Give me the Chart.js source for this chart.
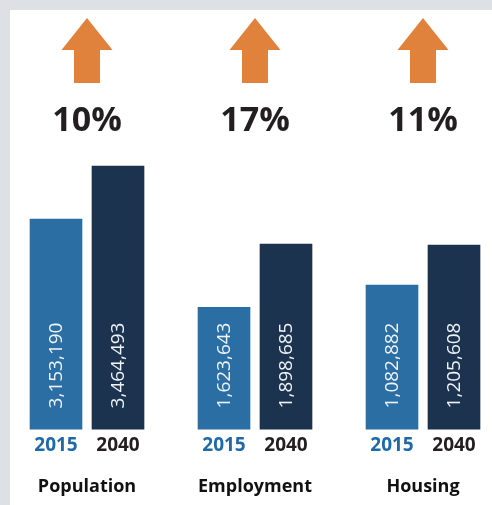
<!DOCTYPE html>
<html>
<head>
<meta charset="utf-8">
<script src="https://cdn.jsdelivr.net/npm/chart.js@4/dist/chart.umd.min.js"></script>
<style>
  html, body { margin: 0; padding: 0; }
  body { width: 492px; height: 505px; background: #dde0e5; position: relative; overflow: hidden; }
  .panel { position: absolute; left: 10px; top: 10px; right: 0; bottom: 0; background: #ffffff; }
  canvas { position: absolute; top: 0; }
</style>
</head>
<body>
<div class="panel"></div>
<canvas id="chart0" width="124" height="505" style="left:25px"></canvas>
<canvas id="chart1" width="124" height="505" style="left:193px"></canvas>
<canvas id="chart2" width="124" height="505" style="left:361px"></canvas>
<script>
// Data
const groups = ['Population', 'Employment', 'Housing'];
const years = ['2015', '2040'];
const values2015 = [3153190, 1623643, 1082882];
const values2040 = [3464493, 1898685, 1205608];
const growth = ['10%', '17%', '11%'];

// each panel has its own (non-zero based) scale
const axisMin = [1919700, 1091000, 641000];
const axisMax = [3558500, 2309100, 1497100];

const barColors = ['#2b6ea4', '#1c3350'];
const yearColors = ['#1f6aa6', '#231f20'];

// Arrow + percent above, rotated values inside the bars
const growthPlugin = {
    id: 'growth',
    afterDatasetsDraw(chart) {
        const ctx = chart.ctx;
        const meta = chart.getDatasetMeta(0);
        const bottom = chart.chartArea.bottom;
        ctx.save();
        ctx.fillStyle = '#eef3f8';
        ctx.font = '19px "Open Sans"';
        ctx.textAlign = 'left';
        ctx.textBaseline = 'middle';
        meta.data.forEach((bar, i) => {
            const v = chart.data.datasets[0].data[i];
            ctx.save();
            ctx.translate(bar.x, bottom - 21);
            ctx.rotate(-Math.PI / 2);
            ctx.fillText(v.toLocaleString('en-US'), 0, 1);
            ctx.restore();
        });
        ctx.restore();
    },
    afterDraw(chart, args, opts) {
        const ctx = chart.ctx;
        const cx = (chart.chartArea.left + chart.chartArea.right) / 2;
        ctx.save();
        // arrow
        ctx.fillStyle = '#e0823b';
        ctx.beginPath();
        ctx.moveTo(cx, 18);
        ctx.lineTo(cx + 25.5, 50);
        ctx.lineTo(cx + 13, 50);
        ctx.lineTo(cx + 13, 83);
        ctx.lineTo(cx - 13, 83);
        ctx.lineTo(cx - 13, 50);
        ctx.lineTo(cx - 25.5, 50);
        ctx.closePath();
        ctx.fill();
        // percent
        ctx.fillStyle = '#231f20';
        ctx.font = 'bold 34px "Open Sans"';
        ctx.textAlign = 'center';
        ctx.textBaseline = 'middle';
        ctx.fillText(opts.text, cx, 121);
        ctx.restore();
    }
};

groups.forEach((name, g) => {
    new Chart(document.getElementById('chart' + g), {
        type: 'bar',
        data: {
            labels: years,
            datasets: [{
                data: [values2015[g], values2040[g]],
                backgroundColor: barColors,
                barThickness: 52
            }]
        },
        options: {
            responsive: false,
            animation: false,
            devicePixelRatio: 1,
            layout: { padding: { top: 150, left: 0, right: 0, bottom: 0 } },
            plugins: {
                legend: { display: false },
                tooltip: { enabled: false },
                growth: { text: growth[g] }
            },
            scales: {
                x: {
                    grid: { display: false, drawTicks: false },
                    border: { display: false },
                    ticks: {
                        padding: 5,
                        color: c => yearColors[c.index],
                        font: { family: 'Open Sans', size: 19, weight: 'bold' }
                    },
                    title: {
                        display: true,
                        text: name,
                        color: '#111111',
                        font: { family: 'Open Sans', size: 18, weight: 'bold' },
                        padding: { top: 14, bottom: 7.2 }
                    }
                },
                y: {
                    display: false,
                    min: axisMin[g],
                    max: axisMax[g]
                }
            }
        },
        plugins: [growthPlugin]
    });
});
</script>
</body>
</html>
